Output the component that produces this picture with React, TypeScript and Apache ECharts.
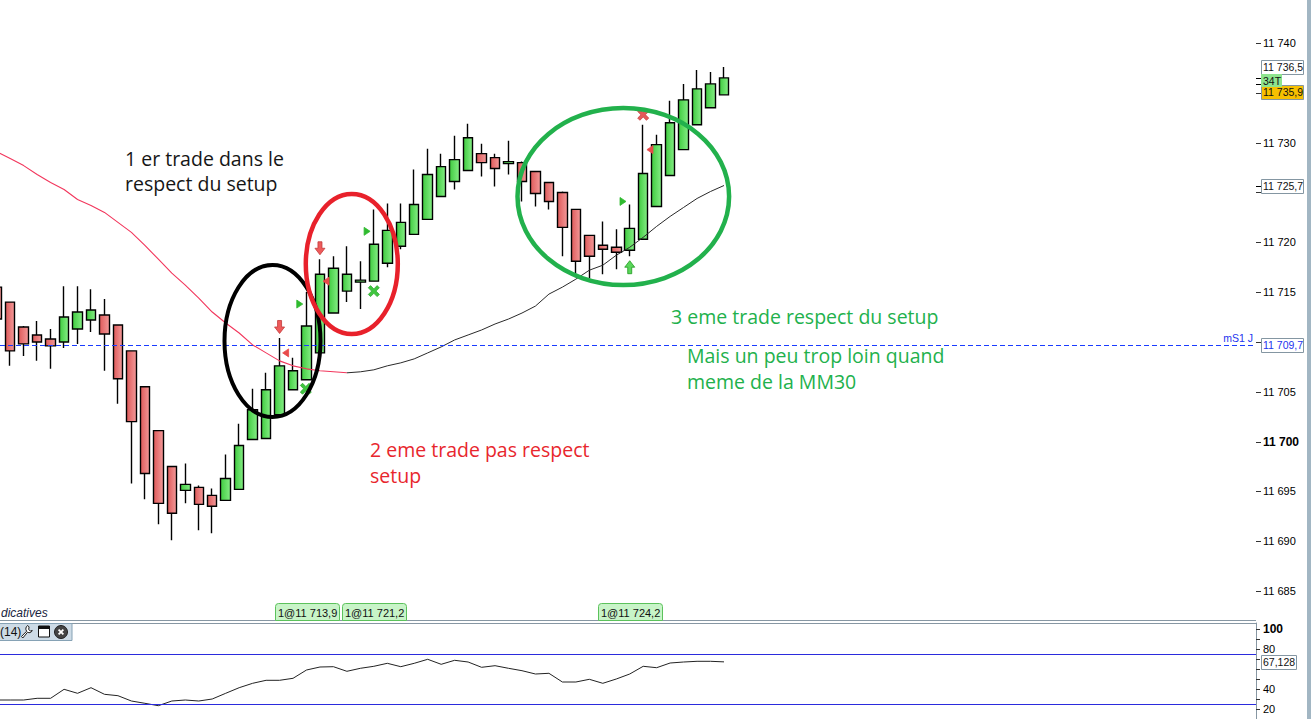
import React, { useEffect, useRef } from 'react';
import * as echarts from 'echarts';

// ---------- data ----------
const slotCount = 94;
const categories = Array.from({ length: slotCount }, (_, i) => `b${i}`);

const opens = [11715.5, 11714.0, 11711.5, 11710.7, 11710.3, 11710.0, 11711.3, 11712.2, 11712.7, 11711.7,
  11709.1, 11705.5, 11701.1, 11697.5, 11695.1, 11695.4, 11694.6, 11694.1, 11695.2, 11700.2,
  11700.3, 11702.7, 11705.2, 11706.2, 11708.9, 11712.9, 11715.1, 11716.0, 11716.1, 11717.9,
  11719.6, 11720.8, 11722.3, 11724.6, 11726.1, 11727.2, 11728.9, 11728.5, 11727.9, 11728.0,
  11727.1, 11726.0, 11725.0, 11723.3, 11720.7, 11719.7, 11719.5, 11719.2, 11720.3, 11723.6,
  11726.7, 11729.3, 11731.8, 11733.5, 11734.8];
const closes = [11712.3, 11709.1, 11709.8, 11710.0, 11709.6, 11712.5, 11713.0, 11713.2, 11710.8, 11706.3,
  11702.0, 11696.8, 11693.8, 11692.8, 11695.7, 11693.7, 11693.5, 11696.3, 11699.6, 11703.2,
  11705.2, 11707.6, 11707.1, 11711.6, 11716.8, 11717.4, 11716.8, 11716.2, 11719.8, 11721.2,
  11722.0, 11723.8, 11726.8, 11727.6, 11728.3, 11730.5, 11728.0, 11727.4, 11728.1, 11726.1,
  11724.9, 11724.1, 11721.5, 11718.1, 11718.6, 11719.3, 11719.0, 11721.4, 11726.9, 11729.8,
  11732.0, 11734.3, 11735.4, 11735.9, 11736.5];
const lows = [11712.0, 11707.6, 11708.6, 11708.1, 11707.3, 11709.4, 11709.8, 11711.0, 11707.1, 11703.8,
  11695.8, 11694.2, 11691.7, 11690.1, 11693.8, 11691.1, 11690.8, 11694.1, 11695.2, 11700.2,
  11700.3, 11702.7, 11705.2, 11706.2, 11708.9, 11712.9, 11714.0, 11713.3, 11716.1, 11717.5,
  11719.3, 11720.8, 11722.3, 11724.6, 11725.3, 11727.2, 11726.6, 11725.6, 11726.8, 11724.1,
  11723.6, 11723.3, 11718.6, 11716.5, 11716.4, 11716.8, 11717.3, 11718.6, 11720.3, 11723.6,
  11726.7, 11729.3, 11731.8, 11733.5, 11734.8];
const highs = [11715.9, 11714.0, 11711.6, 11712.1, 11711.3, 11715.6, 11715.6, 11715.3, 11714.3, 11711.7,
  11709.1, 11705.5, 11701.1, 11697.5, 11697.8, 11695.6, 11695.3, 11698.7, 11701.8, 11705.3,
  11706.9, 11710.4, 11708.4, 11715.0, 11718.3, 11718.6, 11719.6, 11718.1, 11723.3, 11723.9,
  11723.9, 11727.3, 11729.4, 11728.9, 11730.7, 11731.9, 11729.9, 11728.9, 11730.2, 11728.1,
  11727.1, 11726.0, 11725.1, 11723.3, 11720.7, 11722.1, 11721.3, 11723.8, 11731.8, 11730.8,
  11734.2, 11735.9, 11737.3, 11737.1, 11737.6];

const ma30 = [11729.1, 11728.4, 11727.7, 11726.8, 11726.0, 11725.3, 11724.3, 11723.7, 11723.0, 11722.0,
  11721.0, 11719.7, 11718.3, 11716.9, 11715.7, 11714.4, 11713.0, 11711.9, 11710.9, 11709.7,
  11708.9, 11708.1, 11707.6, 11707.3, 11707.1, 11707.0, 11706.9, 11707.0, 11707.2, 11707.6,
  11707.9, 11708.3, 11708.9, 11709.5, 11710.2, 11710.7, 11711.2, 11711.8, 11712.3, 11712.9,
  11713.6, 11714.8, 11715.5, 11716.3, 11717.2, 11717.7, 11718.7, 11719.5, 11720.5, 11721.6,
  11722.6, 11723.5, 11724.4, 11725.1, 11725.7];
const maTurnIndex = 26;

const rsi14 = [29, 29, 29, 30.7, 30.7, 39.7, 35.7, 41.3, 34.7, 33.3,
  28, 25.7, 23.3, 28, 29, 28, 30, 35.7, 41.3, 45.7,
  48.7, 48.7, 50.7, 59, 62, 62.3, 57.7, 60.7, 62.7, 65.7,
  62.3, 65.7, 69.7, 64.7, 68.7, 67, 61.7, 63.3, 60.7, 58.3,
  55, 55.7, 47, 47, 49.7, 45.7, 50, 55, 62.7, 61.3,
  66, 67, 67.7, 67.7, 67.128];
const rsiBands = [25, 75];

// all price ticks; labels hidden behind the value boxes are left out of the label list
const priceTicks = [11685, 11690, 11695, 11700, 11705, 11710, 11715, 11720, 11725, 11730, 11735, 11740];
const priceLabels = [11685, 11690, 11695, 11700, 11705, 11715, 11720, 11730, 11740];
const rsiLabels = [20, 40, 80, 100];
const rsiTicks = [20, 30, 40, 50, 60, 70, 80, 90, 100];
const pivotLevel = 11709.7;
const pivotName = 'mS1 J';

// signals: [slot position, price]
const sellArrows = [[21, 11711.5], [24, 11719.4]];
const buyArrows = [[47, 11717.5]];
const shortTriangles = [[21.45, 11708.9], [24.45, 11716.1], [48.5, 11729.3]];
const longTriangles = [[22.5, 11713.8], [27.5, 11721.1], [46.5, 11724.1]];
const greenCrosses = [[22.95, 11705.3], [28, 11715.1]];
const redCrosses = [[48, 11732.8]];

const trades = [
  { label: '1@11 713,9', slot: 21 },
  { label: '1@11 721,2', slot: 26 },
  { label: '1@11 724,2', slot: 45 },
];
const lastHigh = 11736.5;
const lastPrice = 11735.9;
const tickCountLabel = '34T';

// ---------- helpers ----------
const fmtInt = (v: number) => {
  const s = String(Math.round(v));
  return s.length > 3 ? s.slice(0, -3) + ' ' + s.slice(-3) : s;
};
const fmtDec = (v: number) => {
  const [i, d] = v.toFixed(1).split('.');
  return i.slice(0, -3) + ' ' + i.slice(-3) + ',' + d;
};

const wrenchPath = 'M7.5,0.5 A3.6,3.6 0 0 0 6.3,6.2 L0.5,11.5 L2,13 L7.3,7.2 A3.6,3.6 0 0 0 12.5,5.5 L10.5,6 L8.5,4.5 L9,2 Z';
try {
  echarts.graphic.registerShape('wrench', echarts.graphic.extendPath(wrenchPath, {}) as any);
} catch (e) { /* already registered */ }

const AXIS_GRAY = '#8797a3';
const AX_FONT = '"Liberation Sans", Arial, sans-serif';
const NOTE_FONT = '"Open Sans", sans-serif';
const PIVOT_BLUE = '#1a3cff';

const SYM = {
  down: 'path://M3,0 L7,0 L7,6 L10,6 L5,12 L0,6 L3,6 Z',
  up: 'path://M5,0 L10,6 L7,6 L7,12 L3,12 L3,6 L0,6 Z',
  left: 'path://M10,0 L10,10 L0,5 Z',
  right: 'path://M0,0 L10,5 L0,10 Z',
  cross: 'path://M2,0 L5,3 L8,0 L10,2 L7,5 L10,8 L8,10 L5,7 L2,10 L0,8 L3,5 L0,2 Z',
};

function markerSeries(data: number[][], symbol: string, size: number[], fill: string, stroke: string) {
  return {
    type: 'scatter', xAxisIndex: 1, yAxisIndex: 0, data, symbol, symbolSize: size,
    itemStyle: { color: fill, borderColor: stroke, borderWidth: 0.8, opacity: 1 },
    z: 5, silent: true,
  };
}

export default function App() {
  const ref = useRef<HTMLDivElement>(null);

  useEffect(() => {
    const el = ref.current;
    if (!el) return;
    const chart = echarts.init(el, null, { renderer: 'svg' });

    const upGrad = new echarts.graphic.LinearGradient(0, 0, 1, 0, [
      { offset: 0, color: '#3fcb3f' }, { offset: 1, color: '#86ee86' },
    ]);
    const downGrad = new echarts.graphic.LinearGradient(0, 0, 1, 0, [
      { offset: 0, color: '#de5a5a' }, { offset: 1, color: '#f39a9a' },
    ]);

    const option: any = {
      animation: false,
      backgroundColor: '#ffffff',
      grid: [
        { left: -10, top: 0, width: 1266, height: 620, containLabel: false, outerBoundsMode: 'none' },
        { left: -10, top: 623, width: 1266, height: 96, containLabel: false, outerBoundsMode: 'none' },
      ],
      xAxis: [
        { type: 'category', gridIndex: 0, data: categories, boundaryGap: true, show: false },
        { type: 'value', gridIndex: 0, min: -0.5, max: slotCount - 0.5, show: false },
        { type: 'category', gridIndex: 1, data: categories, boundaryGap: true, show: false },
      ],
      yAxis: [
        {
          type: 'value', gridIndex: 0, position: 'right', min: 11682.09, max: 11744.32,
          splitLine: { show: false }, minorTick: { show: false }, minorSplitLine: { show: false },
          axisLine: { show: true, lineStyle: { color: AXIS_GRAY, width: 1 } },
          axisTick: { show: false },
          axisLabel: {
            customValues: priceLabels, margin: 7, color: '#000', fontSize: 11, fontFamily: AX_FONT,
            formatter: (v: number) => (Math.round(v) === 11700 ? `{b|${fmtInt(v)}}` : fmtInt(v)),
            rich: { b: { fontWeight: 'bold', fontSize: 12, color: '#000', fontFamily: AX_FONT } },
          },
        },
        {
          type: 'value', gridIndex: 1, position: 'right', min: 10, max: 106,
          splitLine: { show: false }, minorTick: { show: false }, minorSplitLine: { show: false },
          axisLine: { show: true, lineStyle: { color: AXIS_GRAY, width: 1 } },
          axisTick: { show: false },
          axisLabel: {
            customValues: rsiLabels, margin: 7, color: '#000', fontSize: 11, fontFamily: AX_FONT,
            formatter: (v: number) => (v === 100 ? `{b|${v}}` : String(v)),
            rich: { b: { fontWeight: 'bold', fontSize: 12, color: '#000', fontFamily: AX_FONT } },
          },
        },
      ],
      series: [
        {
          type: 'candlestick', xAxisIndex: 0, yAxisIndex: 0,
          data: opens.map((o, i) => [o, closes[i], lows[i], highs[i]]),
          barWidth: 10,
          itemStyle: { color: upGrad, color0: downGrad, borderColor: '#000', borderColor0: '#000', borderWidth: 1.4 },
          z: 2,
        },
        {
          type: 'line', xAxisIndex: 0, yAxisIndex: 0, symbol: 'none', silent: true,
          data: ma30.map((v, i) => (i <= maTurnIndex ? v : '-')),
          lineStyle: { color: '#f2365c', width: 1.1 }, z: 3,
        },
        {
          type: 'line', xAxisIndex: 0, yAxisIndex: 0, symbol: 'none', silent: true,
          data: ma30.map((v, i) => (i >= maTurnIndex ? v : '-')),
          lineStyle: { color: '#2a2a2a', width: 1 }, z: 3,
        },
        markerSeries(sellArrows, SYM.down, [10, 13], '#ef5b5b', '#c23a3a'),
        markerSeries(buyArrows, SYM.up, [10, 13], '#5ad65a', '#1f9a1f'),
        markerSeries(shortTriangles, SYM.left, [6, 8], '#e84a4a', '#e84a4a'),
        markerSeries(longTriangles, SYM.right, [6, 8], '#2fba2f', '#2fba2f'),
        markerSeries(greenCrosses, SYM.cross, [11, 11], '#3fc53f', '#2fa82f'),
        markerSeries(redCrosses, SYM.cross, [11, 11], '#e55a5a', '#c84040'),
        {
          type: 'line', xAxisIndex: 2, yAxisIndex: 1, symbol: 'none', silent: true,
          data: rsi14, lineStyle: { color: '#222', width: 1 },
          markLine: {
            silent: true, symbol: 'none', animation: false, label: { show: false },
            lineStyle: { color: '#2b2bdd', type: 'solid', width: 1 },
            data: rsiBands.map((b) => ({ yAxis: b })),
          },
        },
      ],
    };
    chart.setOption(option);

    const yP = (v: number) => chart.convertToPixel({ yAxisIndex: 0 }, v) as number;
    const yR = (v: number) => chart.convertToPixel({ yAxisIndex: 1 }, v) as number;
    const xS = (s: number) => chart.convertToPixel({ xAxisIndex: 1 }, s) as number;

    const maLast = ma30[ma30.length - 1];
    const rsiLast = rsi14[rsi14.length - 1];
    const pivotY = Math.round(yP(pivotLevel)) + 0.5;

    const axisBox = (val: string, cy: number, w: number, fill: string, textFill: string, stroke = '#8496a2') => [
      { type: 'rect', shape: { x: 1261.5, y: Math.round(cy - 7) + 0.5, width: w, height: 14 }, style: { fill, stroke, lineWidth: 1 }, z: 50 },
      { type: 'text', x: 1263, y: cy, style: { text: val, font: `10.5px ${AX_FONT}`, fill: textFill, verticalAlign: 'middle' }, z: 51 },
    ];

    const note = (text: string, x: number, y: number, fill: string) => ({
      type: 'text', x, y, z: 60,
      style: { text, font: `19.5px ${NOTE_FONT}`, fill, verticalAlign: 'middle' },
    });

    const tick = (y: number, len: number, color = '#333') => ({
      type: 'line', shape: { x1: 1256, y1: Math.round(y) + 0.5, x2: 1256 + len, y2: Math.round(y) + 0.5 },
      style: { stroke: color, lineWidth: 1 }, z: 45,
    });

    const elements: any[] = [
      // pivot level (dashed blue)
      { type: 'line', shape: { x1: 0, y1: pivotY, x2: 1256, y2: pivotY }, style: { stroke: PIVOT_BLUE, lineWidth: 1, lineDash: [5, 3] }, z: 4, silent: true },
      // right strip
      { type: 'rect', shape: { x: 1307, y: 0, width: 4, height: 719 }, style: { fill: '#a2b6c3' }, z: 40 },
      // panel borders
      { type: 'line', shape: { x1: 0, y1: 620.5, x2: 1256, y2: 620.5 }, style: { stroke: AXIS_GRAY, lineWidth: 1 }, z: 40 },
      { type: 'line', shape: { x1: 0, y1: 623.5, x2: 1256, y2: 623.5 }, style: { stroke: AXIS_GRAY, lineWidth: 1 }, z: 40 },
      // axis ticks
      ...priceTicks.map((v) => tick(yP(v), 5)),
      ...rsiTicks.map((v) => tick(yR(v), 4)),
      // small axis markers
      ...[lastHigh, lastPrice, maLast].map((v) => tick(yP(v), 5, '#000')),
      // axis value boxes
      ...axisBox(fmtDec(lastHigh), 66.5, 42, '#ffffff', '#111'),
      ...axisBox(fmtDec(lastPrice), 91.5, 42, '#f7c000', '#111'),
      { type: 'rect', shape: { x: 1261, y: 74, width: 21, height: 13 }, style: { fill: '#8ee48e' }, z: 52 },
      { type: 'text', x: 1263, y: 80.5, style: { text: tickCountLabel, font: `10.5px ${AX_FONT}`, fill: '#111', verticalAlign: 'middle' }, z: 53 },
      ...axisBox(fmtDec(maLast), yP(maLast), 42, '#ffffff', '#111'),
      ...axisBox(fmtDec(pivotLevel), yP(pivotLevel), 42, '#ffffff', '#2233ee'),
      { type: 'text', x: 1253, y: yP(pivotLevel) - 7, style: { text: pivotName, font: `10.5px ${AX_FONT}`, fill: '#2233ee', align: 'right', verticalAlign: 'middle' }, z: 51 },
      ...axisBox(rsiLast.toFixed(3).replace('.', ','), yR(rsiLast), 35, '#ffffff', '#111'),
      // trade boxes
      ...trades.flatMap((t) => {
        const x0 = Math.round(xS(t.slot) - 5);
        return [
          { type: 'rect', shape: { x: x0 + 0.5, y: 603.5, width: 64, height: 17, r: [3, 3, 0, 0] }, style: { fill: '#c8f4c8', stroke: '#5cc25c', lineWidth: 1 }, z: 41 },
          { type: 'text', x: x0 + 3, y: 612.5, style: { text: t.label, font: `11px ${AX_FONT}`, fill: '#111', verticalAlign: 'middle' }, z: 42 },
        ];
      }),
      // indicator caption + toolbar
      { type: 'text', x: 1, y: 613, style: { text: 'dicatives', font: `italic 12px ${AX_FONT}`, fill: '#1a2540', verticalAlign: 'middle' }, z: 41 },
      { type: 'rect', shape: { x: -1, y: 623.5, width: 73, height: 17 }, style: { fill: '#cddbe6', stroke: '#86a2b5', lineWidth: 1 }, z: 41 },
      { type: 'text', x: 0, y: 632, style: { text: '(14)', font: `12px ${AX_FONT}`, fill: '#111', verticalAlign: 'middle' }, z: 42 },
      { type: 'wrench', x: 21, y: 625, scaleX: 0.9, scaleY: 1.0, style: { fill: '#fff', stroke: '#111', lineWidth: 1 }, z: 42 },
      { type: 'rect', shape: { x: 38.5, y: 626, width: 11, height: 11 }, style: { fill: '#fff', stroke: '#111', lineWidth: 1 }, z: 42 },
      { type: 'rect', shape: { x: 38.5, y: 626, width: 11, height: 3 }, style: { fill: '#111' }, z: 43 },
      { type: 'circle', shape: { cx: 61, cy: 632, r: 6.5 }, style: { fill: '#444', stroke: '#222', lineWidth: 1 }, z: 42 },
      { type: 'line', shape: { x1: 58.6, y1: 629.6, x2: 63.4, y2: 634.4 }, style: { stroke: '#fff', lineWidth: 1.8 }, z: 43 },
      { type: 'line', shape: { x1: 63.4, y1: 629.6, x2: 58.6, y2: 634.4 }, style: { stroke: '#fff', lineWidth: 1.8 }, z: 43 },
      // hand-drawn ellipses
      { type: 'ellipse', shape: { cx: 272.5, cy: 341, rx: 48, ry: 76 }, style: { fill: 'none', stroke: '#000', lineWidth: 4 }, z: 55 },
      { type: 'ellipse', shape: { cx: 351.8, cy: 264, rx: 46, ry: 70 }, style: { fill: 'none', stroke: '#e8212b', lineWidth: 4.5 }, z: 55 },
      { type: 'ellipse', shape: { cx: 623.3, cy: 196.5, rx: 105.8, ry: 88.5 }, style: { fill: 'none', stroke: '#22b14c', lineWidth: 4.5 }, z: 55 },
      // notes
      note('1 er trade dans le', 125, 158, '#161616'),
      note('respect du setup', 125, 183, '#161616'),
      note('2 eme trade pas respect', 370, 449, '#e8262d'),
      note('setup', 370, 475, '#e8262d'),
      note('3 eme trade respect du setup', 671, 316, '#22b14c'),
      note('Mais un peu trop loin quand', 687, 355, '#22b14c'),
      note('meme de la MM30', 687, 381, '#22b14c'),
    ];

    chart.setOption({ graphic: { elements } });
    return () => chart.dispose();
  }, []);

  return (
    <div
      ref={ref}
      style={{ position: 'absolute', left: 0, top: 0, width: 1311, height: 719, background: '#fff' }}
    />
  );
}
